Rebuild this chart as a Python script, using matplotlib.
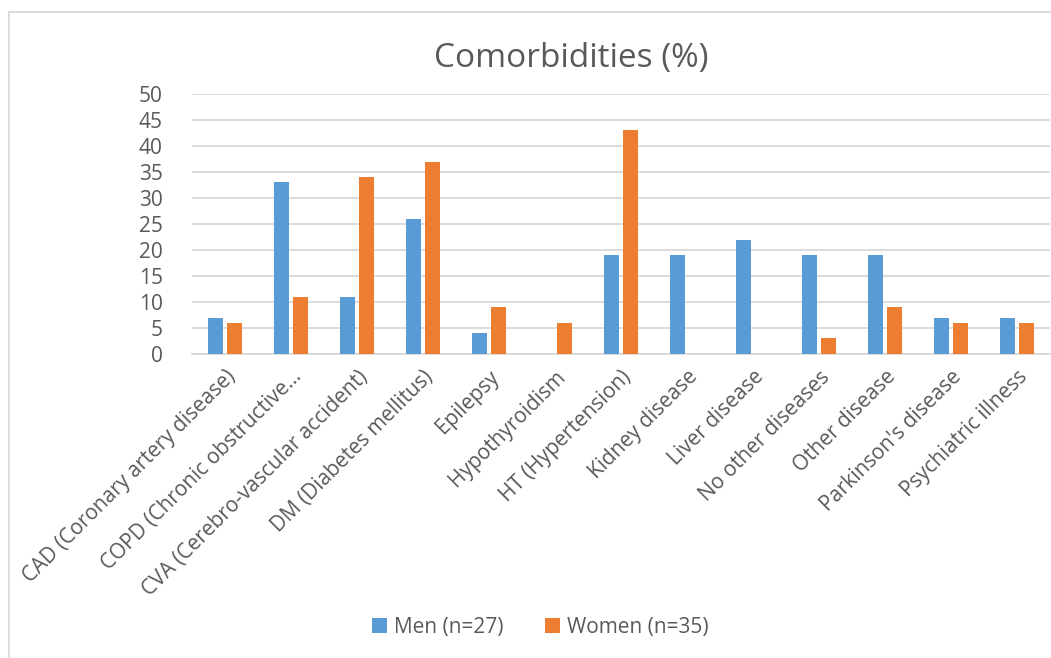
import numpy as np
import matplotlib.pyplot as plt
from matplotlib.lines import Line2D

categories = [
    "CAD (Coronary artery disease)",
    "COPD (Chronic obstructive\u2026",
    "CVA (Cerebro-vascular accident)",
    "DM (Diabetes mellitus)",
    "Epilepsy",
    "Hypothyroidism",
    "HT (Hypertension)",
    "Kidney disease",
    "Liver disease",
    "No other diseases",
    "Other disease",
    "Parkinson's disease",
    "Psychiatric illness",
]
men = [7, 33, 11, 26, 4, 0, 19, 19, 22, 19, 19, 7, 7]
women = [6, 11, 34, 37, 9, 6, 43, 0, 0, 3, 9, 6, 6]
yticks = [0, 5, 10, 15, 20, 25, 30, 35, 40, 45, 50]

plt.rcParams["font.family"] = ["Open Sans", "DejaVu Sans"]
text_color = "#595959"
blue = "#5B9BD5"
orange = "#ED7D31"

W, H = 1051, 658
fig = plt.figure(figsize=(W / 100, H / 100), dpi=100)
ax = fig.add_axes([192 / W, 1 - 354 / H, (1050 - 192) / W, (354 - 94) / H])

x = np.arange(len(categories))
bw = 0.225
ax.bar(x - 0.144, men, width=bw, color=blue, label="Men (n=27)", zorder=3)
ax.bar(x + 0.144, women, width=bw, color=orange, label="Women (n=35)", zorder=3)

ax.set_xlim(-0.5, len(categories) - 0.5)
ax.set_ylim(0, 50)
ax.set_yticks(yticks)
ax.set_yticklabels([str(v) for v in yticks], fontsize=15, color=text_color)
ax.yaxis.grid(True, color="#D9D9D9", linewidth=1.3, zorder=0)
ax.set_xticks(x)
ax.set_xticklabels(categories, rotation=45, ha="right", rotation_mode="anchor",
                   fontsize=15, color=text_color)
ax.tick_params(axis="both", length=0)
ax.tick_params(axis="x", pad=9)
ax.tick_params(axis="y", pad=21)
for side in ["top", "right", "left"]:
    ax.spines[side].set_visible(False)
ax.spines["bottom"].set_color("#D9D9D9")
ax.spines["bottom"].set_linewidth(1.3)

fig.text(571 / W, 1 - 58 / H, "Comorbidities (%)", ha="center", va="center",
         fontsize=24, color=text_color)

fig.legend(loc="center", bbox_to_anchor=(540 / W, 1 - 627 / H), ncol=2,
           frameon=False, fontsize=15, labelcolor=text_color,
           handlelength=0.75, handleheight=0.75, handletextpad=0.3, columnspacing=2.0)

# outer chart frame
fig.add_artist(Line2D([9 / W, 9 / W], [0, 1 - 12 / H], transform=fig.transFigure,
                      color="#D9D9D9", linewidth=1.3))
fig.add_artist(Line2D([9 / W, 1], [1 - 12 / H, 1 - 12 / H], transform=fig.transFigure,
                      color="#D9D9D9", linewidth=1.3))

fig.savefig("out.png", dpi=100)
